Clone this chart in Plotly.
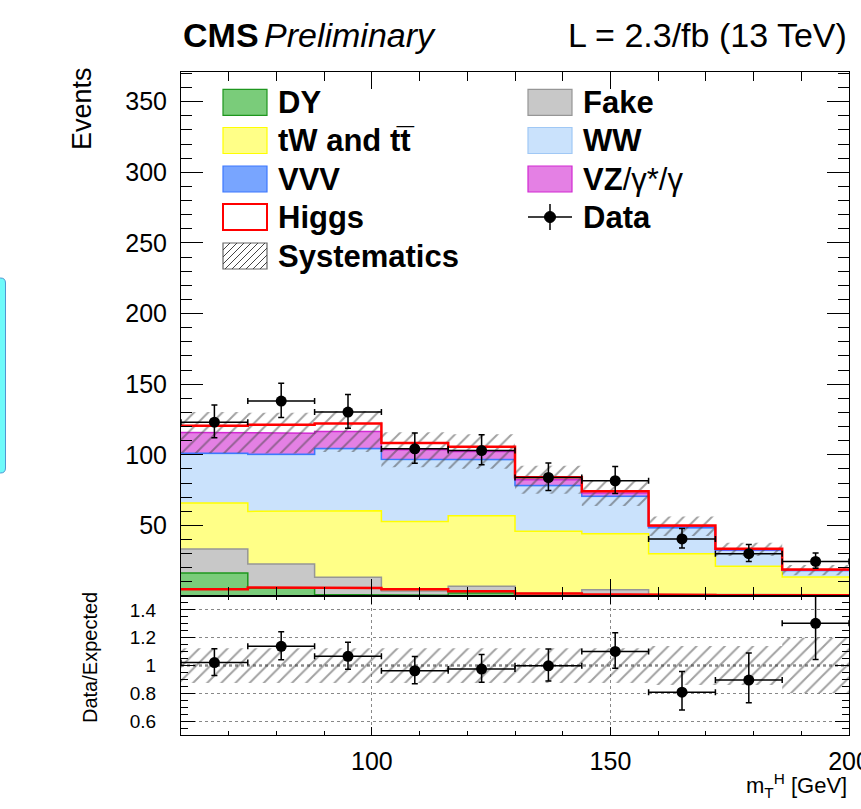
import plotly.graph_objects as go

# ---------------- data ----------------
edges = [60, 74, 88, 102, 116, 130, 144, 158, 172, 186, 200]
dy    = [16.3, 5.5, 1.0, 0.5, 2.2, 0.5, 0.5, 0.3, 0.3, 0.2]
fake  = [17.0, 17.2, 12.2, 3.0, 4.7, 1.5, 4.0, 1.0, 0.7, 0.6]
top   = [32.5, 37.2, 47.2, 49.3, 50.0, 43.8, 39.6, 28.7, 20.0, 12.7]
ww    = [34.9, 40.1, 43.8, 43.7, 39.6, 32.3, 26.4, 18.2, 11.3, 4.5]
vvv   = [0.3, 0.3, 0.3, 0.3, 0.2, 0.2, 0.2, 0.2, 0.1, 0.1]
vz    = [14.8, 15.0, 12.0, 6.7, 5.6, 4.0, 2.2, 0.9, 0.6, 0.2]
higgs = [4.8, 6.0, 5.6, 4.8, 3.4, 1.8, 1.2, 0.7, 0.5, 0.5]
data  = [123.1, 138.0, 130.2, 104.2, 103.0, 83.9, 81.6, 40.4, 30.0, 24.5]
data_err_up = [12.1, 12.7, 12.4, 11.2, 11.1, 10.2, 10.0, 7.4, 6.5, 6.0]
data_err_dn = [11.1, 11.7, 11.4, 10.2, 10.1, 9.2, 9.0, 6.4, 5.5, 4.9]
syst_rel = [0.125, 0.125, 0.125, 0.12, 0.12, 0.12, 0.125, 0.14, 0.14, 0.2]

y_main_ticks = [50, 100, 150, 200, 250, 300, 350]
y_ratio_ticks = [0.6, 0.8, 1.0, 1.2, 1.4]
y_ratio_text = ["0.6", "0.8", "1", "1.2", "1.4"]
x_ticks = [100, 150, 200]

# ---------------- styles ----------------
FONT = "Liberation Sans"
comps = [
    ("DY", dy, "rgb(122,204,122)", "rgb(30,150,30)"),
    ("Fake", fake, "rgb(200,200,200)", "rgb(150,150,150)"),
    ("tW and tt", top, "rgb(255,255,135)", "rgb(255,255,0)"),
    ("WW", ww, "rgb(202,226,252)", "rgb(160,200,245)"),
    ("VVV", vvv, "rgb(120,165,255)", "rgb(60,120,255)"),
    ("VZ", vz, "rgb(228,128,228)", "rgb(210,40,210)"),
]

W, H = 861, 809
L_, R_, T_, B_ = 181, 849, 72, 735
SPLIT = 596


def px(x):
    return (x - L_) / (R_ - L_)


def py(y):
    return (B_ - y) / (B_ - T_)


def step(vals):
    xs, ys = [], []
    for i, v in enumerate(vals):
        xs += [edges[i], edges[i + 1]]
        ys += [v, v]
    return xs, ys


n = len(data)
centers = [(edges[i] + edges[i + 1]) / 2 for i in range(n)]
halfw = [(edges[i + 1] - edges[i]) / 2 for i in range(n)]

fig = go.Figure()

# stacked backgrounds
cum = [0.0] * n
first = True
for name, vals, fc, lc in comps:
    cum = [c + v for c, v in zip(cum, vals)]
    xs, ys = step(cum)
    fig.add_trace(go.Scatter(x=xs, y=ys, mode="lines", line=dict(color=lc, width=1.5),
                             fill="tozeroy" if first else "tonexty", fillcolor=fc,
                             xaxis="x", yaxis="y", hoverinfo="skip", showlegend=False))
    first = False
bkg = cum
total = [b + h for b, h in zip(bkg, higgs)]

# systematics band (main)
up = [b * (1 + r) for b, r in zip(bkg, syst_rel)]
dn = [b * (1 - r) for b, r in zip(bkg, syst_rel)]
xu, yu = step(up)
xd, yd = step(dn)
hatch = dict(shape="/", fgcolor="#444444", bgcolor="rgba(0,0,0,0)", size=10, solidity=0.2)
fig.add_trace(go.Scatter(x=xu + xd[::-1], y=yu + yd[::-1], mode="lines", fill="toself",
                         fillcolor="rgba(0,0,0,0)", line=dict(width=0), fillpattern=hatch,
                         xaxis="x", yaxis="y", hoverinfo="skip", showlegend=False))

# Higgs lines
xs, ys = step(higgs)
fig.add_trace(go.Scatter(x=xs, y=ys, mode="lines", line=dict(color="red", width=2.5),
                         xaxis="x", yaxis="y", hoverinfo="skip", showlegend=False))
xs, ys = step(total)
fig.add_trace(go.Scatter(x=xs, y=ys, mode="lines", line=dict(color="red", width=2.5),
                         xaxis="x", yaxis="y", hoverinfo="skip", showlegend=False))

# data
fig.add_trace(go.Scatter(
    x=centers, y=data, mode="markers", marker=dict(color="black", size=11),
    error_y=dict(type="data", symmetric=False, array=data_err_up, arrayminus=data_err_dn,
                 color="black", thickness=1.5, width=3),
    error_x=dict(type="data", array=halfw, color="black", thickness=1.5, width=3),
    xaxis="x", yaxis="y", hoverinfo="skip", showlegend=False))

# ratio panel
ru = [1 + r for r in syst_rel]
rd = [1 - r for r in syst_rel]
xu, yu = step(ru)
xd, yd = step(rd)
fig.add_trace(go.Scatter(x=xu + xd[::-1], y=yu + yd[::-1], mode="lines", fill="toself",
                         fillcolor="rgba(0,0,0,0)", line=dict(width=0), fillpattern=hatch,
                         xaxis="x2", yaxis="y2", hoverinfo="skip", showlegend=False))
ratio = [d / t for d, t in zip(data, total)]
r_up = [e / t for e, t in zip(data_err_up, total)]
r_dn = [e / t for e, t in zip(data_err_dn, total)]
fig.add_trace(go.Scatter(
    x=centers, y=ratio, mode="markers", marker=dict(color="black", size=11),
    error_y=dict(type="data", symmetric=False, array=r_up, arrayminus=r_dn,
                 color="black", thickness=1.5, width=3),
    error_x=dict(type="data", array=halfw, color="black", thickness=1.5, width=3),
    xaxis="x2", yaxis="y2", hoverinfo="skip", showlegend=False))

shapes = []
# line at 1 in ratio
shapes.append(dict(type="line", xref="x2 domain", yref="y2", x0=0, x1=1, y0=1, y1=1,
                   line=dict(color="#555555", width=2, dash="dot"), layer="below"))

# ---------------- legend (manual, ROOT-like) ----------------
annots = []
legend_left = [
    ("<b>DY</b>", "rgb(122,204,122)", "rgb(30,150,30)", 102.3),
    ("<b>tW and tt\u0305</b>", "rgb(255,255,135)", "rgb(255,255,0)", 140.5),
    ("<b>VVV</b>", "rgb(120,165,255)", "rgb(60,120,255)", 179.0),
    ("<b>Higgs</b>", "white", "red", 217.0),
    ("<b>Systematics</b>", "white", "#666666", 256.0),
]
legend_right = [
    ("<b>Fake</b>", "rgb(200,200,200)", "rgb(150,150,150)", 102.3),
    ("<b>WW</b>", "rgb(202,226,252)", "rgb(160,200,245)", 140.5),
    ("<b>VZ</b>/γ*/γ", "rgb(228,128,228)", "rgb(210,40,210)", 179.0),
    ("<b>Data</b>", None, None, 217.0),
]
SW, SH = 44, 26
for col_x, items in ((223, legend_left), (528, legend_right)):
    for text, fc, lc, yc in items:
        if fc is not None:
            shapes.append(dict(type="rect", xref="paper", yref="paper",
                               x0=px(col_x), x1=px(col_x + SW), y0=py(yc + SH / 2), y1=py(yc - SH / 2),
                               fillcolor=fc, line=dict(color=lc, width=2 if lc == "red" else 1.2)))
            if "Systematics" in text:
                x0, yb = col_x, yc + SH / 2
                c = -SH
                while c < SW:
                    t0 = max(0, -c)
                    t1 = min(SH, SW - c)
                    if t1 > t0:
                        shapes.append(dict(type="line", xref="paper", yref="paper",
                                           x0=px(x0 + c + t0), y0=py(yb - t0),
                                           x1=px(x0 + c + t1), y1=py(yb - t1),
                                           line=dict(color="#444444", width=1)))
                    c += 7
        else:
            shapes.append(dict(type="line", xref="paper", yref="paper",
                               x0=px(col_x), x1=px(col_x + SW), y0=py(yc), y1=py(yc),
                               line=dict(color="black", width=1.5)))
            shapes.append(dict(type="line", xref="paper", yref="paper",
                               x0=px(col_x + SW / 2), x1=px(col_x + SW / 2), y0=py(yc - 13), y1=py(yc + 13),
                               line=dict(color="black", width=1.5)))
            shapes.append(dict(type="circle", xref="paper", yref="paper",
                               x0=px(col_x + SW / 2 - 5.5), x1=px(col_x + SW / 2 + 5.5),
                               y0=py(yc + 5.5), y1=py(yc - 5.5),
                               fillcolor="black", line=dict(color="black", width=1)))
        annots.append(dict(text=text, xref="paper", yref="paper", x=px(col_x + SW + 9), y=py(yc),
                           xanchor="left", yanchor="middle", showarrow=False,
                           font=dict(family=FONT, size=31, color="black")))

# cyan box at the left edge
cx0, cx1, cy0, cy1, rr = -2, 5.5, 278, 473, 5
path = (f"M {px(cx0)},{py(cy0)} L {px(cx1 - rr)},{py(cy0)} Q {px(cx1)},{py(cy0)} {px(cx1)},{py(cy0 + rr)} "
        f"L {px(cx1)},{py(cy1 - rr)} Q {px(cx1)},{py(cy1)} {px(cx1 - rr)},{py(cy1)} L {px(cx0)},{py(cy1)} Z")
shapes.append(dict(type="path", xref="paper", yref="paper", path=path,
                   fillcolor="rgb(110,250,250)", line=dict(color="rgb(80,150,210)", width=1)))

# header / titles
annots += [
    dict(text="<b>CMS</b>", x=px(181), y=py(35), xanchor="left", yanchor="middle",
         font=dict(family=FONT, size=34, color="black")),
    dict(text="<i>Preliminary</i>", x=px(262), y=py(35), xanchor="left", yanchor="middle",
         font=dict(family=FONT, size=34, color="black")),
    dict(text="L = 2.3/fb (13 TeV)", x=px(849), y=py(35), xanchor="right", yanchor="middle",
         font=dict(family=FONT, size=34, color="black")),
    dict(text="Events", x=px(82), y=py(109), textangle=-90, xanchor="center", yanchor="middle",
         font=dict(family=FONT, size=27, color="black")),
    dict(text="Data/Expected", x=px(90), y=py(658), textangle=-90, xanchor="center", yanchor="middle",
         font=dict(family=FONT, size=20, color="black")),
    dict(text="m<sub>T</sub><sup>H</sup> [GeV]", x=px(849), y=py(785), xanchor="right", yanchor="middle",
         font=dict(family=FONT, size=22, color="black")),
]
for a in annots:
    a.setdefault("xref", "paper")
    a.setdefault("yref", "paper")
    a.setdefault("showarrow", False)

axis_common = dict(showline=True, linecolor="black", linewidth=1, mirror="allticks",
                   ticks="inside", tickcolor="black", zeroline=False, automargin=False)

fig.update_layout(
    width=W, height=H,
    margin=dict(l=L_, r=W - R_, t=T_, b=H - B_, pad=0, autoexpand=False),
    paper_bgcolor="white", plot_bgcolor="white",
    showlegend=False,
    xaxis=dict(domain=[0, 1], anchor="y", range=[60, 200], showticklabels=False,
               tickmode="array", tickvals=x_ticks, ticklen=17, showgrid=False,
               minor=dict(ticks="inside", tickmode="linear", tick0=0, dtick=10, ticklen=9,
                          tickcolor="black", showgrid=False),
               **axis_common),
    yaxis=dict(domain=[py(SPLIT), 1], anchor="x", range=[0, 371],
               tickmode="array", tickvals=y_main_ticks, ticklen=22, showgrid=False,
               ticklabelstandoff=8,
               tickfont=dict(family=FONT, size=25, color="black"),
               minor=dict(ticks="inside", tickmode="linear", tick0=0, dtick=10, ticklen=11,
                          tickcolor="black", showgrid=False),
               **axis_common),
    xaxis2=dict(domain=[0, 1], anchor="y2", range=[60, 200], tickmode="array", tickvals=x_ticks,
                ticklen=8, showgrid=True, gridcolor="#888888", griddash="dot", gridwidth=1,
                ticklabelstandoff=4, ticklabeloverflow="allow",
                tickfont=dict(family=FONT, size=25, color="black"),
                minor=dict(ticks="inside", tickmode="linear", tick0=0, dtick=10, ticklen=4,
                           tickcolor="black", showgrid=False),
                **axis_common),
    yaxis2=dict(domain=[0, py(SPLIT)], anchor="x2", range=[0.5, 1.5], tickmode="array",
                tickvals=y_ratio_ticks, ticktext=y_ratio_text, ticklen=14,
                showgrid=True, gridcolor="#888888", griddash="dot", gridwidth=1,
                ticklabelstandoff=20,
                tickfont=dict(family=FONT, size=19, color="black"),
                minor=dict(ticks="inside", tickmode="linear", tick0=0.5, dtick=0.05, ticklen=7,
                           tickcolor="black", showgrid=False),
                **axis_common),
    shapes=shapes,
    annotations=annots,
)

fig.write_html("out.html")
